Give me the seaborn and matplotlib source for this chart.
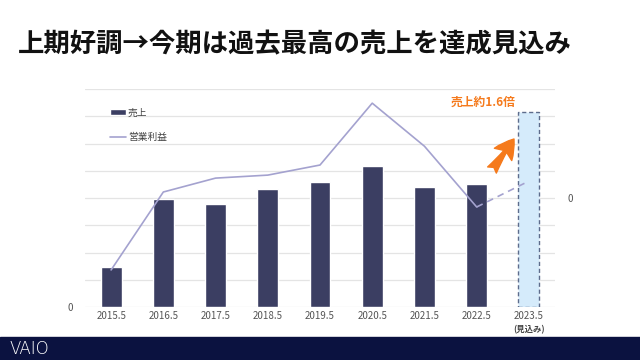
import numpy as np
import pandas as pd
import matplotlib.pyplot as plt
import seaborn as sns
from matplotlib.patches import Rectangle

# data (grid units)
years = ["2015.5", "2016.5", "2017.5", "2018.5", "2019.5",
         "2020.5", "2021.5", "2022.5", "2023.5"]
sales = [1.47, 3.96, 3.77, 4.32, 4.58, 5.16, 4.40, 4.50, 7.14]
profit = [-2.64, 0.22, 0.73, 0.84, 1.21, 3.48, 1.90, -0.33]
profit_forecast = 0.62

BAR = "#3b3e62"
LINE = "#a4a2cf"
ORANGE = "#f57a1c"

sns.set_style("white")
plt.rcParams["font.family"] = ["Noto Sans CJK JP", "DejaVu Sans"]

fig = plt.figure(figsize=(6.4, 3.6), dpi=100)
ax = fig.add_axes([85 / 640, 53 / 360, 470 / 640, 218 / 360])

df = pd.DataFrame({"year": years, "sales": sales})
sns.barplot(data=df, x="year", y="sales", order=years, color=BAR,
            width=0.4, saturation=1, ax=ax, label="売上")
fc = ax.patches[-1]
fc.set_facecolor("#d5ebfb")
fc.set_edgecolor("#5d6c8c")
fc.set_linestyle((0, (3, 2)))
fc.set_linewidth(1.0)

ax.set_xlim(-0.5, 8.5)
ax.set_ylim(0, 8)
ax.set_yticks(np.arange(0, 9))
ax.set_yticklabels(["0"] + [""] * 8)
ax.grid(axis="y", color="#e4e4e4", linewidth=0.9)
ax.set_axisbelow(True)
for s in ax.spines.values():
    s.set_visible(False)
ax.tick_params(length=0, labelsize=7, colors="#555555", pad=3)
ax.tick_params(axis="y", pad=9)
ax.set_xlabel("")
ax.set_ylabel("")
ax.set_xticks(range(len(years)))
ax.set_xticklabels(years)
ax.annotate("(見込み)", xy=(8, 0), xytext=(0, -13), textcoords="offset points",
            ha="center", va="top", fontsize=6, fontweight="bold", color="#444444")

ax2 = ax.twinx()
ax2.set_ylim(-4, 4)
sns.lineplot(x=list(range(len(profit))), y=profit, color=LINE, linewidth=1.2,
             ax=ax2, label="営業利益")
ax2.plot([len(profit) - 1, len(profit)], [profit[-1], profit_forecast],
         color=LINE, linewidth=1.2, linestyle=(0, (4, 3)))
ax2.set_yticks([0])
ax2.set_yticklabels(["0"])
ax2.tick_params(length=0, labelsize=7, colors="#555555", pad=9)
for s in ax2.spines.values():
    s.set_visible(False)
ax2.set_ylabel("")
ax2.get_legend().remove()

h1, l1 = ax.get_legend_handles_labels()
h2, l2 = ax2.get_legend_handles_labels()
ax.legend(h1 + h2, l1 + l2, loc="upper left", bbox_to_anchor=(0.035, 0.955),
          frameon=False, fontsize=7, handlelength=1.6, handleheight=0.6,
          labelspacing=1.5, handletextpad=0.2, labelcolor="#444444")

# orange callout
fig.text(483 / 640, 1 - 102 / 360, "売上約1.6倍", color=ORANGE, fontsize=8.5,
         fontweight="bold", ha="center", va="center")
ax.annotate("", xy=(514, 221), xycoords="figure pixels",
            xytext=(492, 190), textcoords="figure pixels",
            arrowprops=dict(arrowstyle="fancy,head_length=0.8,head_width=0.9,tail_width=0.45",
                            color=ORANGE, mutation_scale=17, shrinkA=0, shrinkB=0))

fig.text(18 / 640, 1 - 45 / 360, "上期好調→今期は過去最高の売上を達成見込み",
         fontsize=19, fontweight="bold", color="#111111", va="center", ha="left")

# footer band with logo
fig.patches.append(Rectangle((0, 0), 1, 23 / 360, transform=fig.transFigure,
                             color="#0b1240", zorder=0))
fig.text(10 / 640, 11 / 360, "VAIO", color="white", fontsize=12,
         fontfamily="DejaVu Sans", fontweight="light", va="center", ha="left")

fig.savefig("out.png", dpi=100)
